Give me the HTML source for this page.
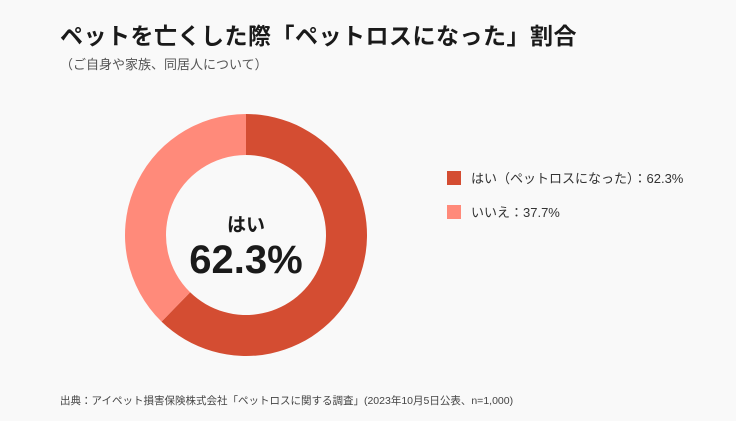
<!DOCTYPE html>
<html><head><meta charset="utf-8"><style>
body{margin:0;width:736px;height:421px;background:#f9f9f9;font-family:"Liberation Sans","Noto Sans CJK JP",sans-serif;overflow:hidden;position:relative}
.t{position:absolute;left:60px;top:17px;font-size:23px;font-weight:bold;color:#1a1a1a;letter-spacing:0.5px}
.s{position:absolute;left:60px;top:54px;font-size:13px;color:#555}
.src{position:absolute;left:60px;top:393px;font-size:10.5px;color:#444}
.leg{position:absolute;left:447px;font-size:13px;color:#333;display:flex;align-items:center}
.leg span.b{width:14px;height:14px;margin-right:10px;display:inline-block}
</style></head><body>
<div class="t">ペットを亡くした際「ペットロスになった」割合</div>
<div class="s">（ご自身や家族、同居人について）</div>
<svg id="c" width="736" height="421" style="position:absolute;left:0;top:0"></svg>
<div class="leg" style="top:168px"><span class="b" style="background:#d44d32"></span>はい（ペットロスになった）：62.3%</div>
<div class="leg" style="top:202px"><span class="b" style="background:#ff8a7a"></span>いいえ：37.7%</div>
<div class="src">出典：アイペット損害保険株式会社「ペットロスに関する調査」(2023年10月5日公表、n=1,000)</div>
<script>
const categories=["はい","いいえ"];
const values=[62.3,37.7];
const colors=["#d44d32","#ff8a7a"];
const svg=document.getElementById('c');const ns="http://www.w3.org/2000/svg";
const cx=246,cy=235,R=121,r=80;
const total=values.reduce((a,b)=>a+b,0);
let a0=0;
function pt(a,rad){return [cx+rad*Math.sin(a),cy-rad*Math.cos(a)];}
values.forEach((v,i)=>{
 const a1=a0+v/total*2*Math.PI;const large=(a1-a0)>Math.PI?1:0;
 const [x0,y0]=pt(a0,R),[x1,y1]=pt(a1,R),[x2,y2]=pt(a1,r),[x3,y3]=pt(a0,r);
 const p=document.createElementNS(ns,'path');
 p.setAttribute('d',`M${x0},${y0}A${R},${R} 0 ${large} 1 ${x1},${y1}L${x2},${y2}A${r},${r} 0 ${large} 0 ${x3},${y3}Z`);
 p.setAttribute('fill',colors[i]);
 
 
 svg.appendChild(p);a0=a1;
});
const t1=document.createElementNS(ns,'text');t1.setAttribute('x',cx);t1.setAttribute('y',231);t1.setAttribute('text-anchor','middle');t1.setAttribute('font-size','19');t1.setAttribute('font-weight','bold');t1.setAttribute('fill','#1a1a1a');t1.textContent=categories[0];


svg.appendChild(t1);
const t2=document.createElementNS(ns,'text');t2.setAttribute('x',cx);t2.setAttribute('y',273);t2.setAttribute('text-anchor','middle');t2.setAttribute('font-size','40');t2.setAttribute('font-weight','bold');t2.setAttribute('fill','#1a1a1a');t2.textContent=values[0]+'%';


svg.appendChild(t2);
</script>
</body></html>
